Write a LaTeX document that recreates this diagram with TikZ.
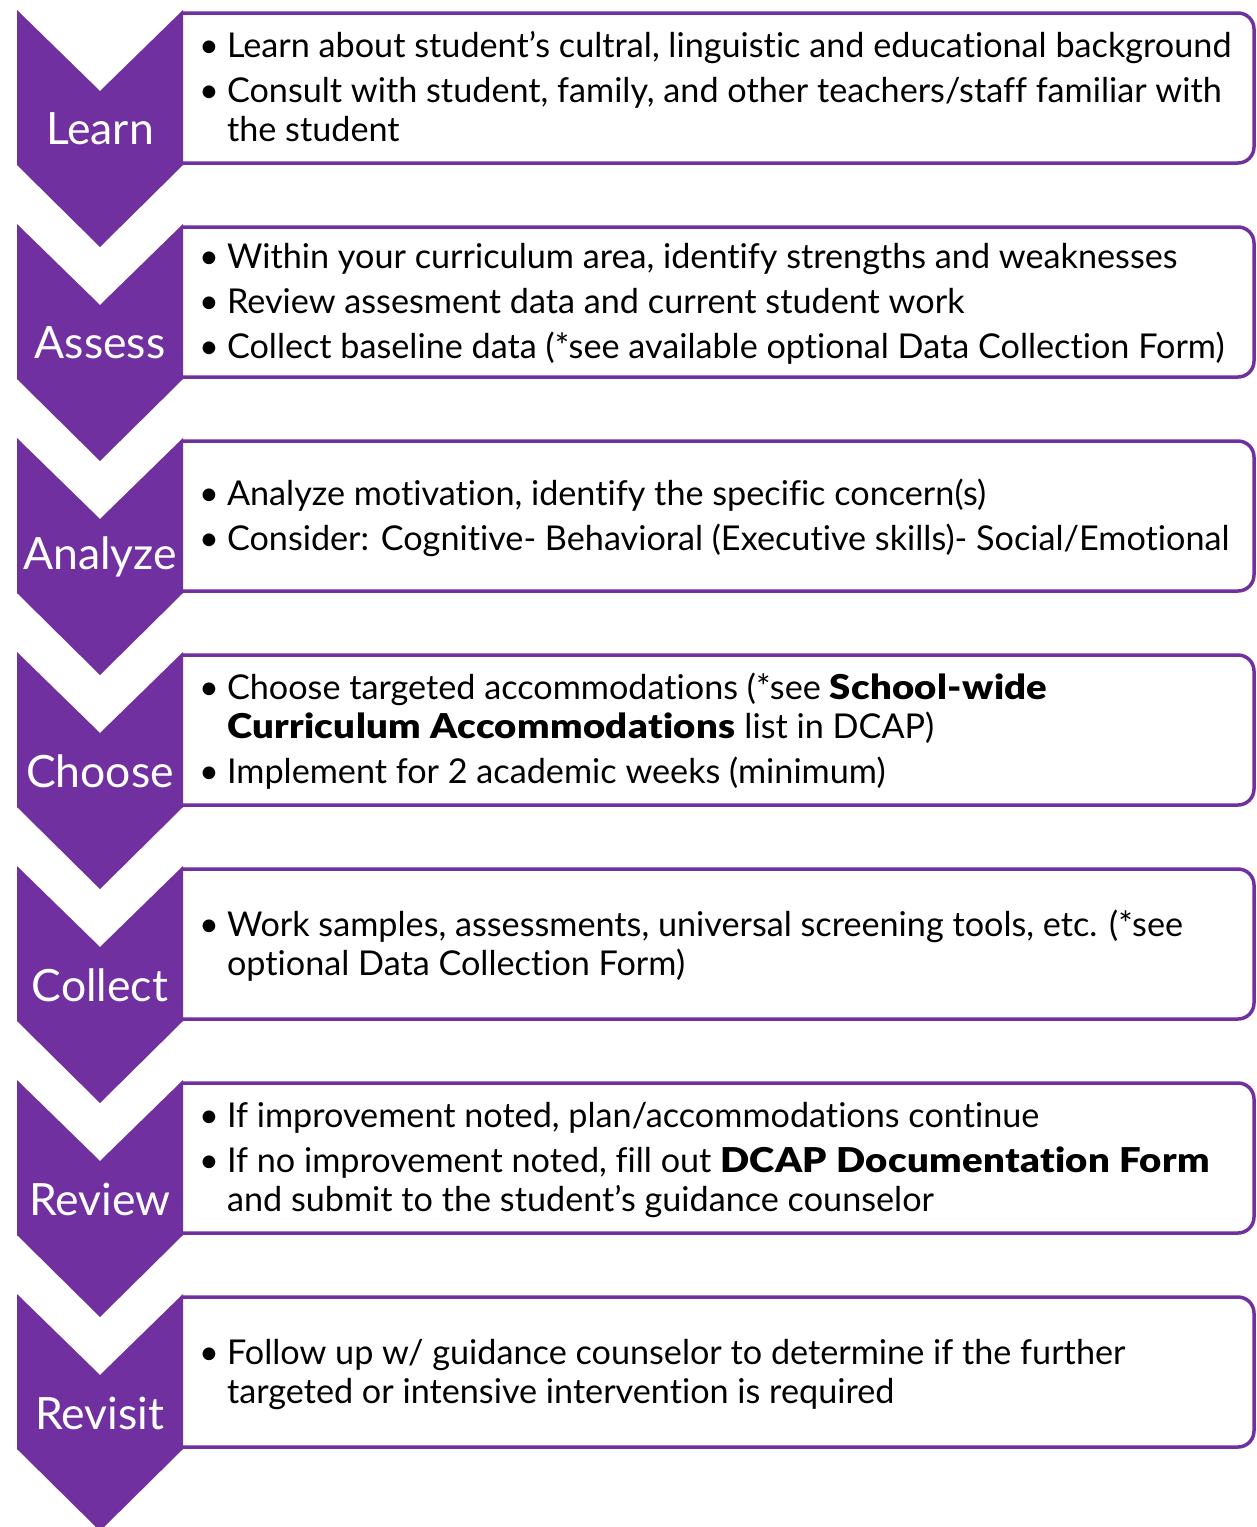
\documentclass[tikz,border=0pt]{standalone}
\usepackage{fontspec}
\setmainfont{Lato}[Ligatures=NoCommon, BoldFont={Lato Black}, BoldFeatures={FakeStretch=1.12, LetterSpace=1}]
\usepackage{xcolor}
\definecolor{stepPurple}{HTML}{7030A0}

\begin{document}
\begin{tikzpicture}[x=1pt, y=-1pt,
    chevron/.style={fill=stepPurple},
    card/.style={draw=stepPurple, line width=3.5pt, fill=white, rounded corners=16pt},
    steplabel/.style={text=white, inner sep=0pt, font=\fontsize{44.5}{50}\selectfont},
    bullets/.style={anchor=west, inner sep=0pt, font=\fontsize{34.2}{39}\selectfont, align=left}]
    \useasboundingbox (0,0) rectangle (1257,1527);
    % chevrons and boxes
    \foreach \n/\lab [count=\i from 0] in {learn/Learn, assess/Assess, analyze/Analyze, choose/Choose, collect/Collect, review/Review, revisit/Revisit} {
        \pgfmathsetmacro\t{10+214*\i}
        \draw[card] (183,\t+3) -- (1254,\t+3) -- (1254,\t+153) -- (183,\t+153);
        \fill[chevron] (17,\t) -- (100,\t+81) -- (183,\t) -- (183,\t+155) -- (100,\t+237) -- (17,\t+155) -- cycle;
        \node[steplabel] (lab-\n) at (100,\t+119) {\lab};
    }
    % texts
    \node[bullets] (txt-learn) at (199,92) {\begin{tabular}{@{}l@{\hspace{8pt}}l@{}}
        • & Learn about student's cultral, linguistic and educational background\\[6pt]
        • & Consult with student, family, and other teachers/staff familiar with\\
          & the student\end{tabular}};
    \node[bullets] (txt-assess) at (199,306) {\begin{tabular}{@{}l@{\hspace{8pt}}l@{}}
        • & Within your curriculum area, identify strengths and weaknesses\\[6pt]
        • & Review assesment data and current student work\\[6pt]
        • & Collect baseline data (*see available optional Data Collection Form)\end{tabular}};
    \node[bullets] (txt-analyze) at (199,520) {\begin{tabular}{@{}l@{\hspace{8pt}}l@{}}
        • & Analyze motivation, identify the specific concern(s)\\[6pt]
        • & Consider: Cognitive- Behavioral (Executive skills)- Social/Emotional\end{tabular}};
    \node[bullets] (txt-choose) at (199,734) {\begin{tabular}{@{}l@{\hspace{8pt}}l@{}}
        • & Choose targeted accommodations (*see \textbf{School-wide}\\
          & \textbf{Curriculum Accommodations} list in DCAP)\\[6pt]
        • & Implement for 2 academic weeks (minimum)\end{tabular}};
    \node[bullets] (txt-collect) at (199,948) {\begin{tabular}{@{}l@{\hspace{8pt}}l@{}}
        • & Work samples, assessments, universal screening tools, etc. (*see\\
          & optional Data Collection Form)\end{tabular}};
    \node[bullets] (txt-review) at (199,1162) {\begin{tabular}{@{}l@{\hspace{8pt}}l@{}}
        • & If improvement noted, plan/accommodations continue\\[6pt]
        • & If no improvement noted, fill out \textbf{DCAP Documentation Form}\\
          & and submit to the student's guidance counselor\end{tabular}};
    \node[bullets] (txt-revisit) at (199,1376) {\begin{tabular}{@{}l@{\hspace{8pt}}l@{}}
        • & Follow up w/ guidance counselor to determine if the further\\
          & targeted or intensive intervention is required\end{tabular}};
\end{tikzpicture}
\end{document}
